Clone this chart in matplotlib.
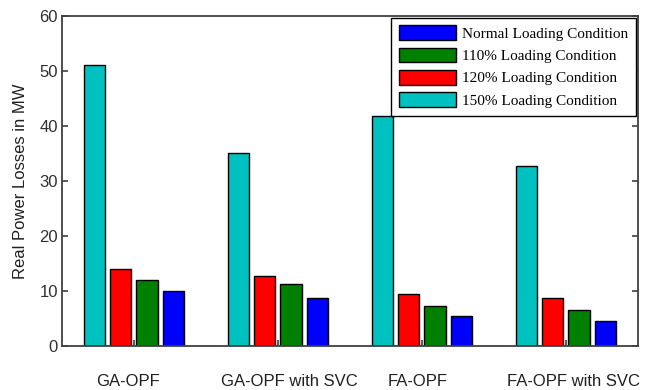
import numpy as np
import matplotlib
matplotlib.use("Agg")
import matplotlib.pyplot as plt

# real power losses (MW) per method and loading condition
methods = ['GA-OPF', 'GA-OPF with SVC', 'FA-OPF', 'FA-OPF with SVC']
label_shift = [-0.04, 0.08, -0.03, 0.05]  # text offsets of the method names
normal = [10.0, 8.8, 5.45, 4.5]
load_110 = [11.9, 11.3, 7.3, 6.6]
load_120 = [13.9, 12.8, 9.45, 8.8]
load_150 = [51.1, 35.0, 41.8, 32.7]

series = [
    (load_150, '#00C0C0', '150% Loading Condition'),
    (load_120, '#FF0000', '120% Loading Condition'),
    (load_110, '#008000', '110% Loading Condition'),
    (normal, '#0000FF', 'Normal Loading Condition'),
]

fig = plt.figure(figsize=(6.45, 3.9), dpi=100)
ax = fig.add_axes([0.096, 0.113, 0.893, 0.846])

x = np.arange(1, len(methods) + 1)
step = 0.182
width = 0.148
bars = []
for i, (vals, col, name) in enumerate(series):
    b = ax.bar(x + (i - 1.5) * step, vals, width, color=col,
               edgecolor='black', linewidth=1.0, label=name)
    bars.append(b)

ax.set_xlim(0.5, 4.5)
ax.set_ylim(0, 60)
ax.set_yticks(range(0, 61, 10))
ax.set_xticks(x)
ax.set_xticklabels([])
ax.tick_params(axis='both', direction='in', length=4, width=1.2, color='#404040',
               right=True, top=False)
ax.tick_params(axis='y', labelsize=12, labelcolor='#303030', pad=3)
for lab in ax.get_yticklabels():
    lab.set_family('Liberation Sans')
for sp in ax.spines.values():
    sp.set_color('#404040')
    sp.set_linewidth(1.3)

# method names under the groups
for xi, name, dx in zip(x, methods, label_shift):
    ax.text(xi + dx, -6.4, name, ha='center', va='center', fontsize=12,
            family='Liberation Sans', color='#202020',
            transform=ax.transData, clip_on=False)

ax.set_ylabel('Real Power Losses in MW', fontsize=12, family='Liberation Sans',
              color='#202020', labelpad=8)

# legend lists normal loading first
handles = bars[::-1]
leg = ax.legend(handles, [h.get_label() for h in handles], loc='upper right',
                bbox_to_anchor=(1.0, 1.0), prop={'family': 'Liberation Serif', 'size': 11},
                fancybox=False, edgecolor='black', framealpha=1,
                handlelength=3.7, handleheight=1.1, handletextpad=0.45,
                labelspacing=0.45, borderpad=0.5, borderaxespad=0.1)
leg.get_frame().set_linewidth(1.0)

fig.savefig('out.png', dpi=100)
